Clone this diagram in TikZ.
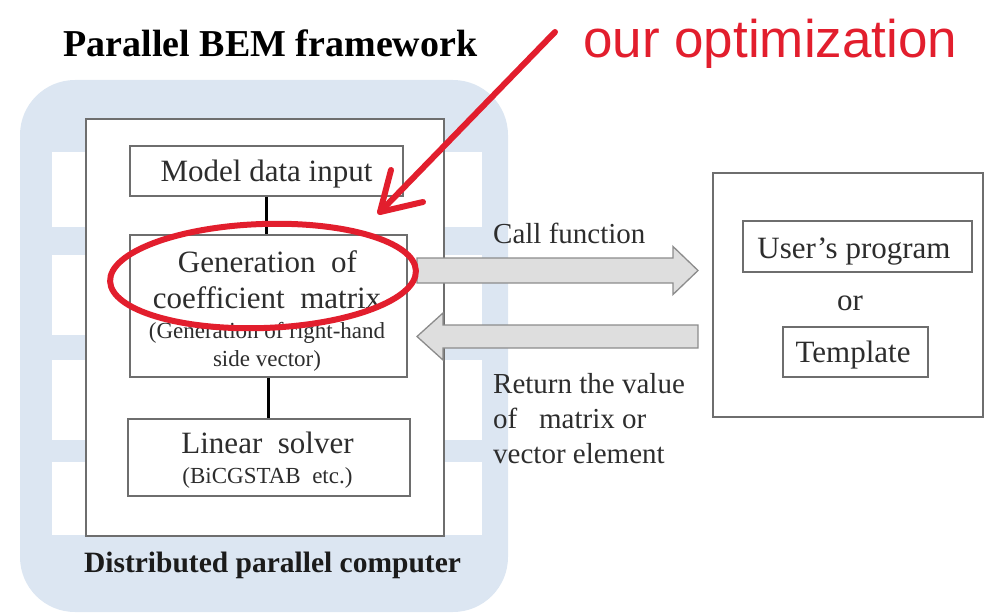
\documentclass[tikz,border=0pt]{standalone}
\usepackage{fontspec}
\setmainfont{Liberation Serif}
\newfontfamily\labelsans{Liberation Sans}
\usetikzlibrary{calc}
\definecolor{rackblue}{RGB}{220,230,242}
\definecolor{boxgray}{RGB}{110,110,110}
\definecolor{txtgray}{RGB}{45,45,45}
\definecolor{markred}{RGB}{226,30,45}
\definecolor{arrowfill}{RGB}{222,222,222}
\definecolor{arrowline}{RGB}{140,140,140}

\begin{document}
\begin{tikzpicture}[x=1pt,y=-1pt,
  box/.style={draw=boxgray, line width=1.3pt, fill=white, inner sep=0pt},
  bigtext/.style={font=\fontsize{31}{31}\selectfont, text=txtgray, anchor=base, inner sep=0pt},
  smalltext/.style={font=\fontsize{23}{23}\selectfont, text=txtgray, anchor=base, inner sep=0pt},
  note/.style={font=\fontsize{29}{29}\selectfont, text=txtgray, anchor=base west, inner sep=0pt},
  link/.style={line width=3pt, black},
  block/.style={draw=arrowline, line width=1.3pt, fill=arrowfill, line join=miter},
  redline/.style={line width=6pt, markred, line cap=round, line join=round},
]
\useasboundingbox (0,0) rectangle (985,615);

% rack-style background of the framework
\fill[rackblue, rounded corners=55pt] (20,80) rectangle (508,612);
\foreach \a/\b in {152/227,255/335,360/440,462/535}
  \fill[white] (52,\a) rectangle (482,\b);

% framework frame and its stages
\node[box, minimum width=358pt, minimum height=417pt] (frame) at (265,327.5) {};
\node[box, minimum width=273pt, minimum height=50pt] (model) at (266.5,171) {};
\node[box, minimum width=277pt, minimum height=142pt] (gen) at (268.5,306) {};
\node[box, minimum width=282pt, minimum height=77pt] (solver) at (269,457.5) {};

\draw[link] (model.south) -- (model.south |- gen.north);
\draw[link] (gen.south) -- (gen.south |- solver.north);

% user side
\node[box, minimum width=270pt, minimum height=244pt] (user) at (848,295) {};
\node[box, minimum width=229pt, minimum height=51pt] (prog) at (857.5,246.5) {};
\node[box, minimum width=145pt, minimum height=50pt] (tmpl) at (855.5,352) {};

% block arrows between the framework and the user side
\coordinate (callS) at (417,270.5);
\coordinate (callE) at (698,270.5);
\draw[block] ($(callS)+(0,-12.5)$) -- ($(callE)+(-25,-12.5)$) -- ($(callE)+(-25,-24)$)
  -- (callE) -- ($(callE)+(-25,24)$) -- ($(callE)+(-25,12.5)$) -- ($(callS)+(0,12.5)$) -- cycle;
\coordinate (retS) at (698,336.5);
\coordinate (retE) at (417,336.5);
\draw[block] ($(retS)+(0,-11.5)$) -- ($(retE)+(26,-11.5)$) -- ($(retE)+(26,-23.5)$)
  -- (retE) -- ($(retE)+(26,23.5)$) -- ($(retE)+(26,11.5)$) -- ($(retS)+(0,11.5)$) -- cycle;

% texts
\node[font=\fontsize{38}{38}\selectfont\bfseries, anchor=base, inner sep=0pt] (title) at (270.5,57) {Parallel BEM framework};
\node[bigtext] (modeltxt) at (266.5,182) {Model data input};
\node[bigtext] (gen1) at (267.5,272) {Generation\ \ of};
\node[bigtext] (gen2) at (267,308) {coefficient\ \ matrix};
\node[smalltext] (gen3) at (267,338) {(Generation of right-hand};
\node[smalltext] (gen4) at (267,366) {side vector)};
\node[bigtext] (solv1) at (267.5,453) {Linear\ \ solver};
\node[smalltext] (solv2) at (267.5,483) {(BiCGSTAB\ \ etc.)};
\node[font=\fontsize{29.5}{29.5}\selectfont\bfseries, text=txtgray!60!black, anchor=base, inner sep=0pt] (dist) at (272.5,572) {Distributed parallel computer};

\node[note] (calltxt) at (493,243) {Call function};
\node[note] (ret1) at (493,393) {Return the value};
\node[note] (ret2) at (493,428) {of\ \ \ matrix or};
\node[note] (ret3) at (493,463) {vector element};

\node[bigtext] (progtxt) at (854,258) {User's\ program};
\node[bigtext] (ortxt) at (850,310) {or};
\node[bigtext] (tmpltxt) at (853,362) {Template};

% highlight of the optimized stage
\draw[markred, line width=6pt, rotate around={2:(263,276)}] (263,276) ellipse [x radius=153, y radius=52];
\node[font=\labelsans\fontsize{53}{53}\selectfont, text=markred, anchor=base west, inner sep=0pt] (opt) at (583,58) {our optimization};
\coordinate (optS) at (555,32);
\coordinate (optT) at (380,212);
\draw[redline] (optS) -- (optT);
\draw[redline] ($(optT)+(11,-42)$) -- (optT) -- ($(optT)+(43,-10)$);
\end{tikzpicture}
\end{document}
